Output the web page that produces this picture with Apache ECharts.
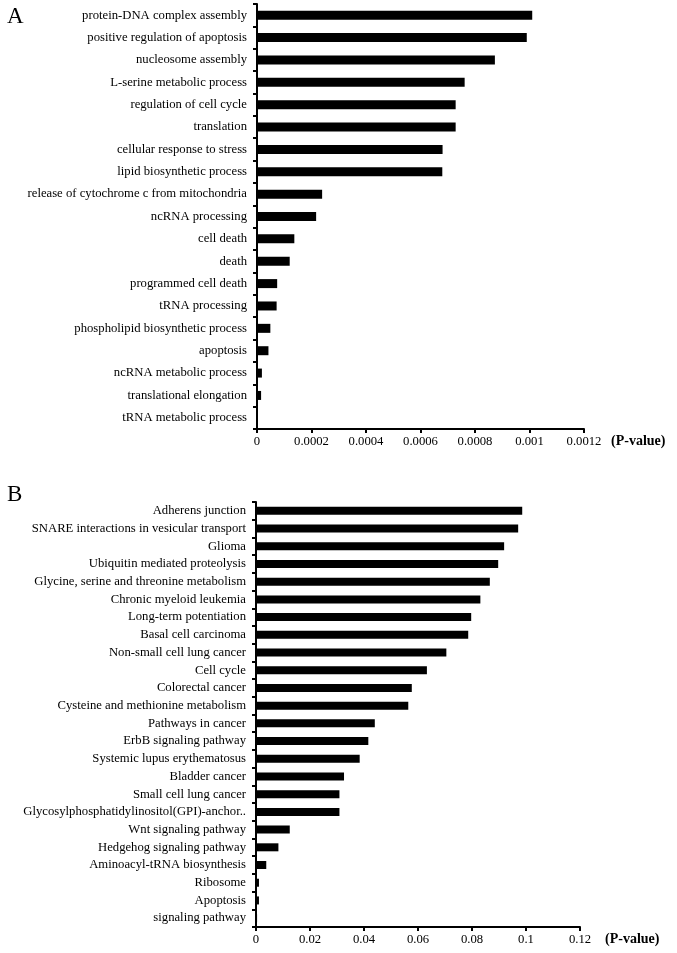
<!DOCTYPE html>
<html>
<head>
<meta charset="utf-8">
<script src="https://cdn.jsdelivr.net/npm/echarts@6/dist/echarts.min.js"></script>
<style>
html,body{margin:0;padding:0;background:#fff;}
#main{width:677px;height:953px;}
</style>
</head>
<body>
<div id="main"></div>
<script>
const catsA = [
  "protein-DNA complex assembly",
  "positive regulation of apoptosis",
  "nucleosome assembly",
  "L-serine metabolic process",
  "regulation of cell cycle",
  "translation",
  "cellular response to stress",
  "lipid biosynthetic process",
  "release of cytochrome c from mitochondria",
  "ncRNA processing",
  "cell death",
  "death",
  "programmed cell death",
  "tRNA processing",
  "phospholipid biosynthetic process",
  "apoptosis",
  "ncRNA metabolic process",
  "translational elongation",
  "tRNA metabolic process"
];
const valuesA = [
  0.00101, 0.00099, 0.000873, 0.000762, 0.000729, 0.000729, 0.000681, 0.00068,
  0.000239, 0.000217, 0.000137, 0.00012, 0.000074, 0.000072, 0.000049, 0.000042,
  0.000018, 0.000015, 0.000002
];
const ticksA = { min: 0, max: 0.0012, interval: 0.0002 };

const catsB = [
  "Adherens junction",
  "SNARE interactions in vesicular transport",
  "Glioma",
  "Ubiquitin mediated proteolysis",
  "Glycine, serine and threonine metabolism",
  "Chronic myeloid leukemia",
  "Long-term potentiation",
  "Basal cell carcinoma",
  "Non-small cell lung cancer",
  "Cell cycle",
  "Colorectal cancer",
  "Cysteine and methionine metabolism",
  "Pathways in cancer",
  "ErbB signaling pathway",
  "Systemic lupus erythematosus",
  "Bladder cancer",
  "Small cell lung cancer",
  "Glycosylphosphatidylinositol(GPI)-anchor..",
  "Wnt signaling pathway",
  "Hedgehog signaling pathway",
  "Aminoacyl-tRNA biosynthesis",
  "Ribosome",
  "Apoptosis",
  "signaling pathway"
];
const valuesB = [
  0.0986, 0.0971, 0.0919, 0.0897, 0.0866, 0.0831, 0.0797, 0.0786,
  0.0705, 0.0633, 0.0577, 0.0564, 0.0440, 0.0416, 0.0384, 0.0326,
  0.0309, 0.0309, 0.0125, 0.0083, 0.0038, 0.0011, 0.0011, 0.0004
];
const ticksB = { min: 0, max: 0.12, interval: 0.02 };

const axisName = "(P-value)";
const panelLetters = ["A", "B"];

const FONT = "Liberation Serif";
const FS = 12.7;

function yAx(idx, cats) {
  return {
    type: 'category', gridIndex: idx, data: cats, inverse: true,
    axisLine: { show: true, lineStyle: { color: '#000', width: 2 } },
    axisTick: { show: true, length: 4, lineStyle: { color: '#000', width: 2 } },
    axisLabel: { color: '#000', fontFamily: FONT, fontSize: FS, margin: 10, interval: 0 },
    splitLine: { show: false }
  };
}
function xAx(idx, t, gap) {
  return {
    type: 'value', gridIndex: idx, min: t.min, max: t.max, interval: t.interval,
    name: axisName, nameLocation: 'end', nameGap: gap,
    nameTextStyle: { color: '#000', fontFamily: FONT, fontSize: 14, fontWeight: 'bold', verticalAlign: 'top', padding: [5, 0, 0, 0] },
    axisLine: { show: true, lineStyle: { color: '#000', width: 2 } },
    axisTick: { show: true, length: 4, lineStyle: { color: '#000', width: 2 } },
    axisLabel: { color: '#000', fontFamily: FONT, fontSize: FS, margin: 6 },
    splitLine: { show: false }
  };
}

const chart = echarts.init(document.getElementById('main'), null, { renderer: 'canvas' });
chart.setOption({
  animation: false,
  backgroundColor: '#fff',
  title: [
    { text: panelLetters[0], left: 2, top: 0, textStyle: { fontFamily: FONT, fontSize: 23, fontWeight: 'normal', color: '#000' } },
    { text: panelLetters[1], left: 2, top: 478, textStyle: { fontFamily: FONT, fontSize: 23, fontWeight: 'normal', color: '#000' } }
  ],
  grid: [
    { left: 257, top: 4, width: 327, height: 425, containLabel: false },
    { left: 256, top: 502, width: 324, height: 425, containLabel: false }
  ],
  xAxis: [xAx(0, ticksA, 27), xAx(1, ticksB, 25)],
  yAxis: [yAx(0, catsA), yAx(1, catsB)],
  series: [
    { type: 'bar', xAxisIndex: 0, yAxisIndex: 0, data: valuesA, barWidth: 9, itemStyle: { color: '#000' } },
    { type: 'bar', xAxisIndex: 1, yAxisIndex: 1, data: valuesB, barWidth: 8, itemStyle: { color: '#000' } }
  ]
});
</script>
</body>
</html>
